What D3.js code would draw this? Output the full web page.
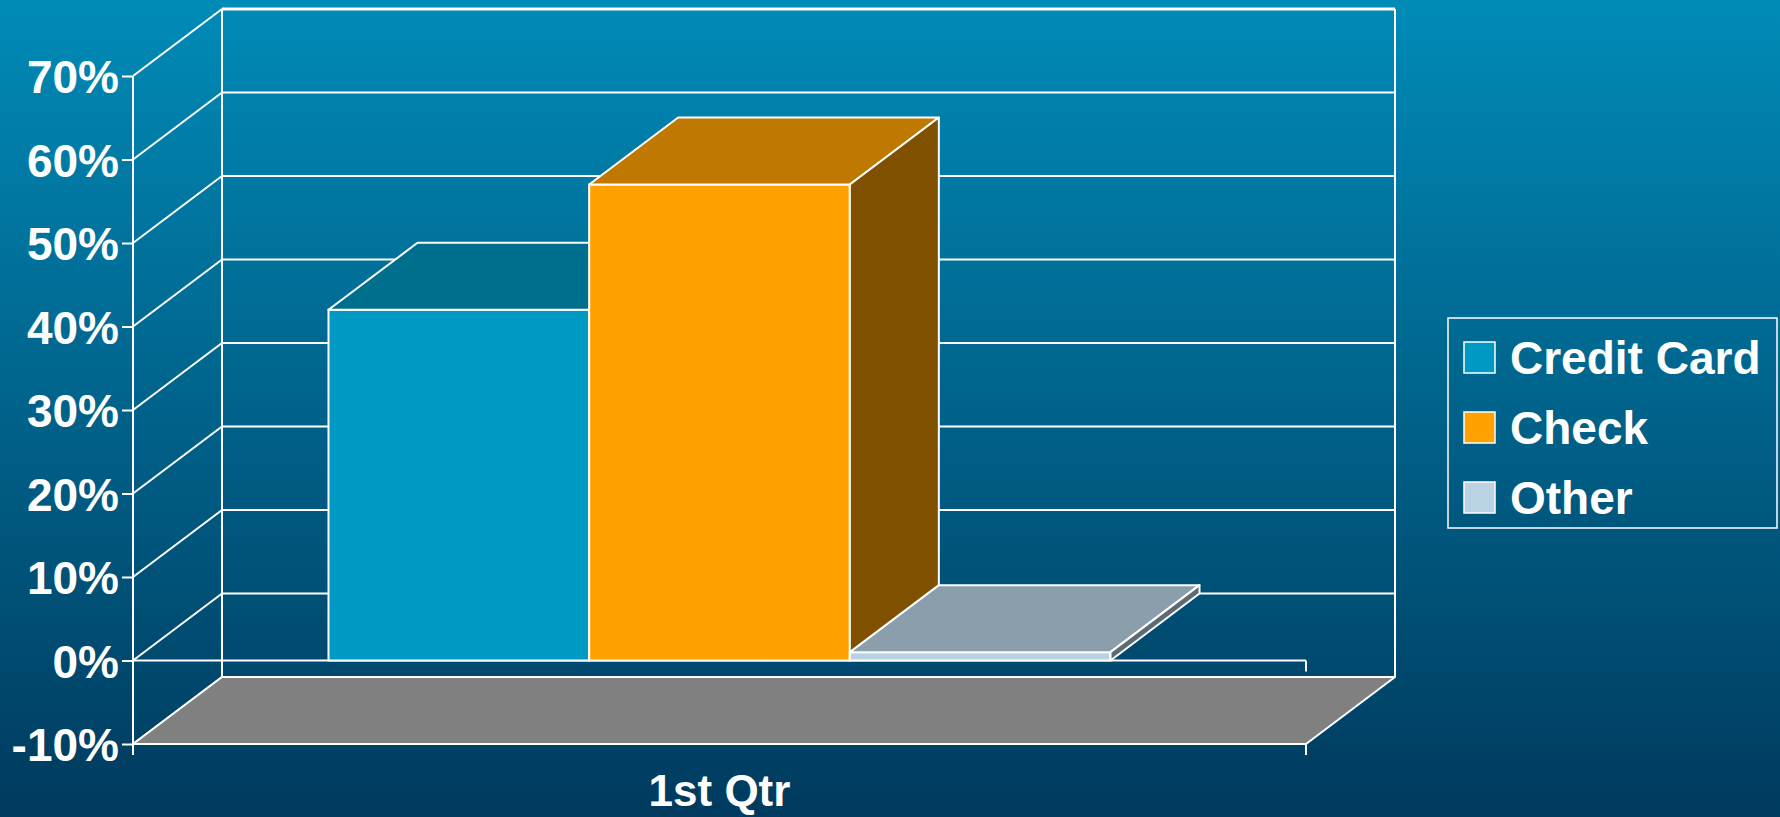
<!DOCTYPE html>
<html>
<head>
<meta charset="utf-8">
<script src="https://cdn.jsdelivr.net/npm/d3@7"></script>
<style>
  html, body { margin: 0; padding: 0; overflow: hidden; background: #005a80; }
  svg { display: block; }
  text { font-family: "Liberation Sans", Arial, sans-serif; font-weight: bold; fill: #ffffff; }
</style>
</head>
<body>
<script>
// ---- data ----
const categories = ["1st Qtr"];
const seriesNames = ["Credit Card", "Check", "Other"];
const seriesValues = [0.42, 0.57, 0.01];
const seriesColors = ["#0099c4", "#ffa100", "#b9d3e5"];
const topColors = ["#006e8d", "#bf7900", "#8a9eab"];
const sideColors = ["#004d63", "#7f5000", "#5d6a73"];
const yTicks = [-0.1, 0, 0.1, 0.2, 0.3, 0.4, 0.5, 0.6, 0.7];

// ---- layout ----
const W = 1780, H = 817;
const plotLeft = 133, plotRight = 1306, plotTop = 76, plotBottom = 744;
const dx = 89, dy = -67;   // 3D depth offset

const svg = d3.select("body").append("svg").attr("width", W).attr("height", H);

const defs = svg.append("defs");
const grad = defs.append("linearGradient").attr("id", "bg").attr("x1", 0).attr("y1", 0).attr("x2", 0).attr("y2", 1);
grad.append("stop").attr("offset", "0%").attr("stop-color", "#008bb7");
grad.append("stop").attr("offset", "100%").attr("stop-color", "#003a5e");
svg.append("rect").attr("width", W).attr("height", H).attr("fill", "url(#bg)");

const y = d3.scaleLinear().domain([-0.1, 0.7]).range([plotBottom, plotTop]);
const x0 = d3.scaleBand().domain(categories).range([plotLeft, plotRight]).paddingInner(0).paddingOuter(0.25);
const x1 = d3.scaleBand().domain(seriesNames).range([0, x0.bandwidth()]);

const lineStyle = sel => sel.attr("stroke", "#ffffff").attr("stroke-width", 2).attr("fill", "none");

// ---- walls: back grid lines ----
const grid = svg.append("g");
grid.selectAll("line.back").data(yTicks).join("line").attr("class", "back")
  .attr("x1", plotLeft + dx).attr("x2", plotRight + dx)
  .attr("y1", d => y(d) + dy).attr("y2", d => y(d) + dy)
  .call(lineStyle);
grid.selectAll("line.diag").data(yTicks).join("line").attr("class", "diag")
  .attr("x1", plotLeft).attr("x2", plotLeft + dx)
  .attr("y1", d => y(d)).attr("y2", d => y(d) + dy)
  .call(lineStyle);
grid.append("line").attr("x1", plotLeft + dx).attr("x2", plotLeft + dx)
  .attr("y1", y(0.7) + dy).attr("y2", y(-0.1) + dy).call(lineStyle);
grid.append("line").attr("x1", plotRight + dx).attr("x2", plotRight + dx)
  .attr("y1", y(0.7) + dy).attr("y2", y(-0.1) + dy).call(lineStyle);
grid.append("line").attr("x1", plotLeft + dx).attr("x2", plotRight + dx)
  .attr("y1", y(0.7) + dy).attr("y2", y(0.7) + dy).attr("stroke", "#fff").attr("stroke-width", 3);

// ---- floor ----
svg.append("polygon")
  .attr("points", [[plotLeft, y(-0.1)], [plotLeft + dx, y(-0.1) + dy], [plotRight + dx, y(-0.1) + dy], [plotRight, y(-0.1)]].map(p => p.join(",")).join(" "))
  .attr("fill", "#808080").attr("stroke", "#ffffff").attr("stroke-width", 2).attr("stroke-linejoin", "round");

// ---- zero line (front) ----
svg.append("line").attr("x1", plotLeft).attr("x2", plotRight).attr("y1", y(0)).attr("y2", y(0)).call(lineStyle);
svg.append("line").attr("x1", plotRight).attr("x2", plotRight).attr("y1", y(0)).attr("y2", y(0) + 11).call(lineStyle);

// ---- bars ----
const bars = svg.append("g");
seriesNames.forEach((s, i) => {
  const v = seriesValues[i];
  const xa = x0(categories[0]) + x1(s);
  const xb = xa + x1.bandwidth();
  const yt = y(v), yb = y(0);
  const g = bars.append("g");
  g.append("rect").attr("x", xa).attr("y", yt).attr("width", xb - xa).attr("height", yb - yt)
    .attr("fill", seriesColors[i]).attr("stroke", "#fff").attr("stroke-width", 2);
  g.append("polygon")
    .attr("points", [[xa, yt], [xa + dx, yt + dy], [xb + dx, yt + dy], [xb, yt]].map(p => p.join(",")).join(" "))
    .attr("fill", topColors[i]).attr("stroke", "#fff").attr("stroke-width", 2).attr("stroke-linejoin", "round");
  g.append("polygon")
    .attr("points", [[xb, yt], [xb + dx, yt + dy], [xb + dx, yb + dy], [xb, yb]].map(p => p.join(",")).join(" "))
    .attr("fill", sideColors[i]).attr("stroke", "#fff").attr("stroke-width", 2).attr("stroke-linejoin", "round");
});

// ---- y axis ----
const pct = d => d3.format(".0%")(d).replace("\u2212", "-");
const yAxis = d3.axisLeft(y).tickValues(yTicks).tickFormat(pct).tickSizeInner(11).tickSizeOuter(0).tickPadding(3);
const ya = svg.append("g").attr("transform", `translate(${plotLeft},0)`).call(yAxis);
ya.select(".domain").remove();
ya.selectAll(".tick line").attr("stroke", "#fff").attr("stroke-width", 2);
ya.selectAll(".tick text").attr("font-size", 46).attr("fill", "#fff").attr("dy", "0.36em")
  .attr("font-family", "Liberation Sans, Arial, sans-serif").attr("font-weight", "bold");
svg.append("line").attr("x1", plotLeft).attr("x2", plotLeft).attr("y1", y(0.7)).attr("y2", y(-0.1) + 11).call(lineStyle);

// ---- x axis ----
svg.append("line").attr("x1", plotRight).attr("x2", plotRight).attr("y1", y(-0.1)).attr("y2", y(-0.1) + 11).call(lineStyle);
svg.append("text").attr("x", x0(categories[0]) + x0.bandwidth() / 2).attr("y", 806)
  .attr("text-anchor", "middle").attr("font-size", 44).text(categories[0]);

// ---- legend ----
const lg = svg.append("g").attr("transform", "translate(1448,318)");
lg.append("rect").attr("width", 329).attr("height", 210).attr("fill", "none").attr("stroke", "#fff").attr("stroke-width", 1.5);
seriesNames.forEach((s, i) => {
  lg.append("rect").attr("x", 16).attr("y", 24 + i * 70).attr("width", 31).attr("height", 31)
    .attr("fill", seriesColors[i]).attr("stroke", "#fff").attr("stroke-width", 1.5);
  lg.append("text").attr("x", 62).attr("y", 56 + i * 70).attr("font-size", 46).text(s);
});
</script>
</body>
</html>
